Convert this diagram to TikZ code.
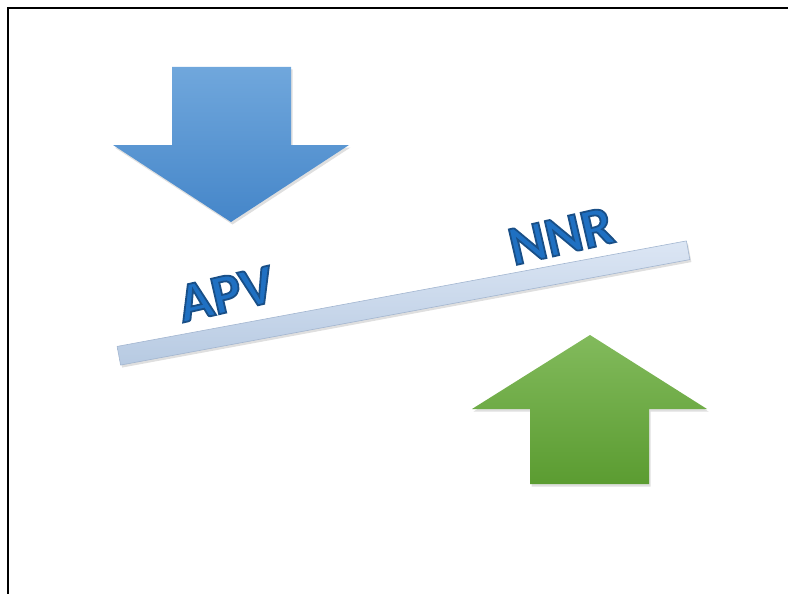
\documentclass[tikz,border=0pt]{standalone}
\usepackage{fontspec}
\setmainfont{Carlito}
\usetikzlibrary{shadows}

\definecolor{downtop}{HTML}{70A7DC}
\definecolor{downbot}{HTML}{4586C9}
\definecolor{uptop}{HTML}{82BA5C}
\definecolor{upbot}{HTML}{5B9C31}
\definecolor{bartop}{HTML}{DCE6F4}
\definecolor{barbot}{HTML}{B7CAE2}
\definecolor{baredge}{HTML}{A3B6D0}
\definecolor{labelblue}{HTML}{1F70C2}

% outlined text: fill plus a dark blue stroke
\newcommand{\rimtext}[1]{\special{pdf:literal direct 2 Tr 1.8 w 0.10 0.31 0.53 RG}#1\special{pdf:literal direct 0 Tr}}

\begin{document}
\begin{tikzpicture}[x=1pt,y=-1pt,
  softshadow/.style={drop shadow={opacity=0.25,shadow xshift=1.5pt,shadow yshift=-2.5pt}},
  downarrow/.style={top color=downtop,bottom color=downbot,draw=none,softshadow},
  uparrow/.style={top color=uptop,bottom color=upbot,draw=none,softshadow},
  bar/.style={rectangle,top color=bartop,bottom color=barbot,draw=baredge,line width=0.6pt,
    minimum width=579pt,minimum height=19pt,inner sep=0pt,rotate=10.5,softshadow},
  balance/.style={font=\bfseries\fontsize{56}{56}\selectfont,text=labelblue,inner sep=0pt,rotate=13}]
\useasboundingbox (0,0) rectangle (788,594);

%%%%%%%%%%%%%%%%%%%%%%%%%%%%%%%%%%%%%%%%%%% frame
\draw[line width=2.6pt] (8,594) -- (8,8) -- (788,8);

%%%%%%%%%%%%%%%%%%%%%%%%%%%%%%%%%%%%%%%%%%% arrows
\path[downarrow] (172,67) -- (291,67) -- (291,145) -- (349,145) -- (231,222)
  -- (113,145) -- (172,145) -- cycle;
\path[uparrow] (590,335) -- (707,409) -- (649,409) -- (649,484) -- (530,484)
  -- (530,409) -- (472,409) -- cycle;

%%%%%%%%%%%%%%%%%%%%%%%%%%%%%%%%%%%%%%%%%%% beam and labels
\node[bar] (beam) at (403.5,303) {};
\node[balance] (apv) at (226,294) {\rimtext{APV}};
\node[balance] (nnr) at (561,236) {\rimtext{NNR}};
\end{tikzpicture}
\end{document}
